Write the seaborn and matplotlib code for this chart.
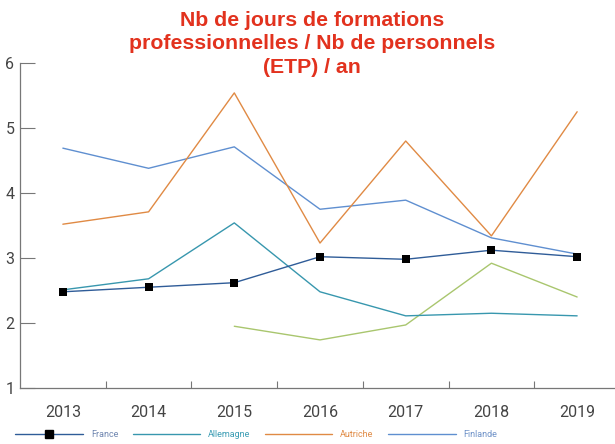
import pandas as pd
import matplotlib.pyplot as plt
import seaborn as sns
from matplotlib.lines import Line2D

# Data
years = [2013, 2014, 2015, 2016, 2017, 2018, 2019]
france = [2.48, 2.55, 2.62, 3.02, 2.98, 3.12, 3.02]
allemagne = [2.51, 2.68, 3.54, 2.48, 2.11, 2.15, 2.11]
autriche = [3.52, 3.71, 5.54, 3.23, 4.80, 3.34, 5.25]
finlande = [4.69, 4.38, 4.71, 3.75, 3.89, 3.31, 3.06]
autre = [None, None, 1.95, 1.74, 1.97, 2.92, 2.40]

title = "Nb de jours de formations\nprofessionnelles / Nb de personnels\n(ETP) / an"

colors = {
    "France": "#2f5c98",
    "Allemagne": "#3897ae",
    "Autriche": "#e08a44",
    "Finlande": "#5f8fd0",
    "Autre": "#a9c66e",
}
text_colors = {
    "France": "#6f86b0",
    "Allemagne": "#3c9db4",
    "Autriche": "#e08a44",
    "Finlande": "#6f92c8",
}

df = pd.DataFrame({
    "year": years,
    "France": france,
    "Allemagne": allemagne,
    "Autriche": autriche,
    "Finlande": finlande,
    "Autre": autre,
})

sns.set_style("white")
plt.rcParams["font.family"] = ["Roboto", "DejaVu Sans"]

fig = plt.figure(figsize=(6.15, 4.44), dpi=100)
ax = fig.add_axes([20 / 615, 56 / 444, 600 / 615, 325 / 444])

for name in ["Autre", "Finlande", "Autriche", "Allemagne", "France"]:
    sub = df[["year", name]].dropna()
    sns.lineplot(data=sub, x="year", y=name, ax=ax, color=colors[name], lw=1.0)
sns.scatterplot(data=df, x="year", y="France", ax=ax, marker="s", color="black",
                s=40, edgecolor="black", linewidth=0, zorder=5)

ax.set_xlim(2012.5, 2019.5)
ax.set_ylim(1, 6)
ax.set_xlabel("")
ax.set_ylabel("")

ax.set_xticks(years)
ax.set_xticklabels([str(y) for y in years])
ax.set_xticks([y + 0.5 for y in years[:-1]], minor=True)
ax.tick_params(axis="x", which="major", length=0, labelsize=11.5, labelcolor="#444444", pad=12)
ax.tick_params(axis="x", which="minor", direction="in", length=5, width=0.8, color="#777777", bottom=True)
ax.set_yticks([1, 2, 3, 4, 5, 6])
ax.tick_params(axis="y", direction="in", length=11, width=0.8, color="#777777",
               labelsize=11.5, labelcolor="#444444", pad=4, left=True)

sns.despine(ax=ax, top=True, right=True)
for side in ["left", "bottom"]:
    ax.spines[side].set_color("#777777")
    ax.spines[side].set_linewidth(0.9)

fig.text(0.508, 0.976, title, ha="center", va="top", color="#e2321e",
         fontsize=15.3, fontweight="bold", family=["Liberation Sans", "DejaVu Sans"],
         linespacing=1.3)

handles = [
    Line2D([], [], color=colors["France"], lw=1.0, marker="s", markersize=6,
           markerfacecolor="black", markeredgecolor="black"),
    Line2D([], [], color=colors["Allemagne"], lw=1.0),
    Line2D([], [], color=colors["Autriche"], lw=1.0),
    Line2D([], [], color=colors["Finlande"], lw=1.0),
]
labels = ["France", "Allemagne", "Autriche", "Finlande"]
leg = fig.legend(handles, labels, loc="center left", bbox_to_anchor=(0.025, 0.022),
                 ncol=4, frameon=False, fontsize=6.5, handlelength=7.5,
                 handletextpad=0.85, columnspacing=1.6, borderaxespad=0, borderpad=0)
for t, lab in zip(leg.get_texts(), labels):
    t.set_color(text_colors[lab])

fig.savefig("out.png", dpi=100)
